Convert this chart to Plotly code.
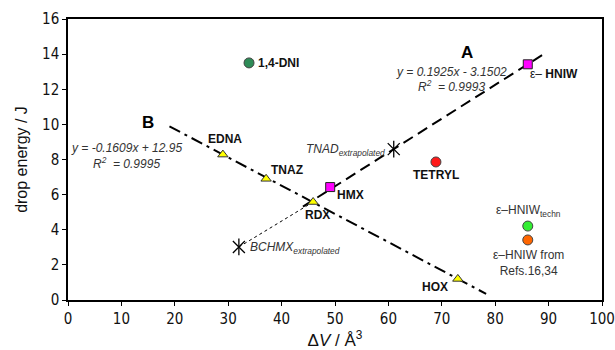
import plotly.graph_objects as go

# --- data ---
tri_names = ["EDNA", "TNAZ", "RDX", "HOX"]
tri_x = [29, 37.1, 45.9, 73]
tri_y = [8.28, 6.9, 5.58, 1.2]

sq_names = ["HMX", "ε-HNIW"]
sq_x = [49.1, 86.1]
sq_y = [6.43, 13.42]

dni_x, dni_y = [33.9], [13.5]
tetryl_x, tetryl_y = [68.9], [7.86]
techn_x, techn_y = [86.1], [4.21]
refs_x, refs_y = [86.1], [3.42]

extrap_names = ["TNAD", "BCHMX"]
extrap_x = [61, 32]
extrap_y = [8.59, 3.02]

lineA_x = [44, 89.5]
lineA_y = [5.32, 14.08]
lineB_x = [19, 78.3]
lineB_y = [9.89, 0.35]
dot_x = [32, 45.9]
dot_y = [3.02, 5.58]

x_ticks = list(range(0, 101, 10))
y_ticks = list(range(0, 17, 2))

fig = go.Figure()
fig.add_trace(go.Scatter(x=lineA_x, y=lineA_y, mode="lines",
                         line=dict(color="black", width=2, dash="11px,6px")))
fig.add_trace(go.Scatter(x=lineB_x, y=lineB_y, mode="lines",
                         line=dict(color="black", width=2, dash="12px,5px,3px,5px")))
fig.add_trace(go.Scatter(x=dot_x, y=dot_y, mode="lines",
                         line=dict(color="black", width=1, dash="dot")))
fig.add_trace(go.Scatter(x=tri_x, y=tri_y, mode="markers",
                         marker=dict(symbol="triangle-up", size=9, color="#ffff00",
                                     line=dict(color="#333", width=1))))
fig.add_trace(go.Scatter(x=sq_x, y=sq_y, mode="markers",
                         marker=dict(symbol="square", size=9, color="#ff00ff",
                                     line=dict(color="#222", width=1))))
for xs, ys, c in [(dni_x, dni_y, "#2e8b57"), (tetryl_x, tetryl_y, "#ff1a1a"),
                  (techn_x, techn_y, "#33ee33"), (refs_x, refs_y, "#ff6600")]:
    fig.add_trace(go.Scatter(x=xs, y=ys, mode="markers",
                             marker=dict(symbol="circle", size=10, color=c,
                                         line=dict(color="#444", width=1))))
fig.add_trace(go.Scatter(x=extrap_x, y=extrap_y, mode="markers",
                         marker=dict(symbol="x-thin-open", size=12, color="black",
                                     line=dict(color="black", width=1.3))))
fig.add_trace(go.Scatter(x=extrap_x, y=extrap_y, mode="markers",
                         marker=dict(symbol="line-ns-open", size=12, color="black",
                                     line=dict(color="black", width=1.3))))

F = "Liberation Sans, Arial, sans-serif"
FN = "DejaVu Sans Condensed, Liberation Sans, sans-serif"
ann = []
def lab(x, y, t, xa="center", size=12, color="#111"):
    ann.append(dict(x=x, y=y, text=t, xref="x", yref="y", showarrow=False,
                    xanchor=xa, yanchor="middle", font=dict(family=F, size=size, color=color)))

lab(35.2, 13.5, "<b>1,4-DNI</b>", "left")
lab(29.4, 9.17, "<b>EDNA</b>")
lab(37.6, 7.4, "<b>TNAZ</b>", "left")
lab(46.8, 4.84, "<b>RDX</b>")
lab(50.0, 5.98, "<b>HMX</b>", "left")
lab(86.1, 12.87, "ε– <b>HNIW</b>", "left")
lab(59.8, 8.54, "<i>TNAD</i><sub><i>extrapolated</i></sub>", "right", 12, "#333")
lab(33.7, 2.96, "<i>BCHMX</i><sub><i>extrapolated</i></sub>", "left", 12, "#333")
lab(68.9, 7.12, "<b>TETRYL</b>")
lab(71.5, 0.74, "<b>HOX</b>", "right")
lab(86.3, 5.07, "ε–HNIW<sub>techn</sub>", "center", 12, "#333")
lab(86.3, 2.13, "ε–HNIW from<br>Refs.16,34", "center", 12, "#333")
lab(74.7, 14.07, "<b>A</b>", "center", 17, "black")
lab(71.9, 12.98, "<i>y = 0.1925x - 3.1502</i>", "center", 12, "#333")
lab(71.9, 12.19, "<i>R<sup>2</sup>  = 0.9993</i>", "center", 12, "#333")
lab(15.0, 10.08, "<b>B</b>", "center", 17, "black")
lab(10.9, 8.66, "<i>y = -0.1609x + 12.95</i>", "center", 12, "#333")
lab(10.9, 7.8, "<i>R<sup>2</sup>  = 0.9995</i>", "center", 12, "#333")

fig.update_layout(
    width=615, height=350, showlegend=False,
    margin=dict(l=68, r=13, t=19, b=50),
    paper_bgcolor="white", plot_bgcolor="white",
    annotations=ann,
    font=dict(family=F, color="#111"),
    xaxis=dict(range=[0, 100], tickvals=x_ticks, showgrid=False, zeroline=False,
               showline=True, linecolor="black", linewidth=1.5, mirror=True,
               ticks="outside", ticklen=4, tickcolor="black", automargin=False,
               ticklabeloverflow="allow",
               tickfont=dict(size=15, family=FN),
               title=dict(text="Δ<i>V</i> / Å<sup>3</sup>", font=dict(size=17, family=F), standoff=6)),
    yaxis=dict(range=[0, 16], tickvals=y_ticks, showgrid=False, zeroline=False,
               showline=True, linecolor="black", linewidth=1.5, mirror=True,
               ticks="outside", ticklen=4, tickcolor="black", automargin=False,
               ticklabeloverflow="allow",
               tickfont=dict(size=15, family=FN),
               title=dict(text="drop energy / J", font=dict(size=16, family=F), standoff=10)),
)
fig.write_html("out.html")
